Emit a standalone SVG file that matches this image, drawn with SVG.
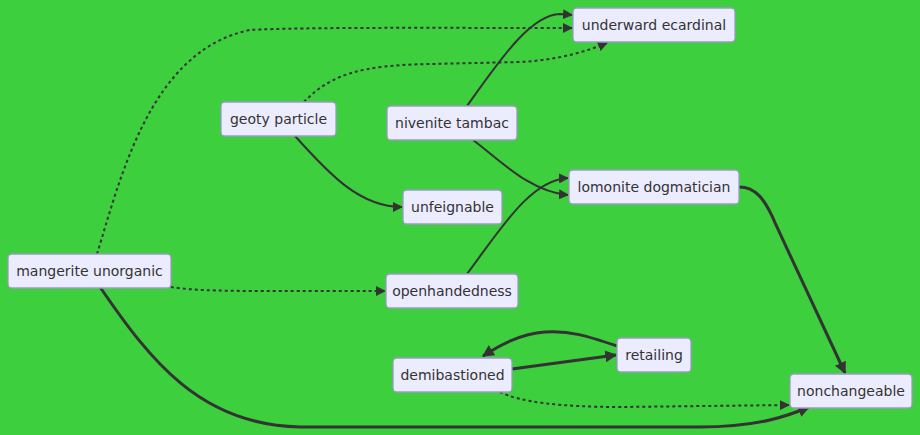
<svg xmlns="http://www.w3.org/2000/svg" width="920" height="435" viewBox="0 0 920 435">
<style>
.node rect{fill:#ECECFF;stroke:#9a9ac4;stroke-width:1.3}
.node text{font-family:"DejaVu Sans",sans-serif;font-size:14px;fill:#333;text-anchor:middle;dominant-baseline:central}
.e{fill:none;stroke:#333;stroke-width:2}
.thick{stroke-width:3}
.dot{stroke-dasharray:3 3}
</style>
<defs>
<marker id="ah" viewBox="0 0 10 10" refX="9" refY="5" markerWidth="10" markerHeight="10" markerUnits="userSpaceOnUse" orient="auto">
<path d="M0,0 L10,5 L0,10 Z" fill="#333"/>
</marker>
<marker id="ahb" viewBox="0 0 10 10" refX="9" refY="5" markerWidth="12" markerHeight="12" markerUnits="userSpaceOnUse" orient="auto">
<path d="M0,0 L10,5 L0,10 Z" fill="#333"/>
</marker>
</defs>
<rect width="920" height="435" fill="#3dcf3d"/>
<g id="connectors">
<path class="e dot" d="M97,254 C120,180 150,50 250,30 C300,27 450,28 572,28" marker-end="url(#ah)"/>
<path class="e dot" d="M304,102 C330,75 360,65 430,64 L520,62 C560,60 590,50 607,43" marker-end="url(#ah)"/>
<path class="e" d="M467,106 C500,60 530,15 560,14 L572,15" marker-end="url(#ah)"/>
<path class="e" d="M473,140 C500,160 530,192 568,195" marker-end="url(#ah)"/>
<path class="e" d="M295,136 C330,175 360,207 402,207" marker-end="url(#ah)"/>
<path class="e" d="M467,274 C500,230 530,180 568,178" marker-end="url(#ah)"/>
<path class="e dot" d="M171,287 C200,292 250,291 385,291" marker-end="url(#ah)"/>
<path class="e thick" d="M739,187 C755,187 765,198 776,225 L845,373" marker-end="url(#ahb)"/>
<path class="e thick" d="M100,287 C150,360 200,425 300,427 L700,427 C760,427 790,415 809,407" marker-end="url(#ahb)"/>
<path class="e dot" d="M500,392 C520,402 560,407 620,407 L789,405" marker-end="url(#ah)"/>
<path class="e thick" d="M512,369 L616,355" marker-end="url(#ahb)"/>
<path class="e thick" d="M617,346 C590,337 570,330 545,332 C520,334 500,345 483,356" marker-end="url(#ahb)"/>
</g>
<g id="n-mangerite" class="node"><rect x="8" y="254" width="163" height="34" rx="4"/><text x="89.5" y="271">mangerite unorganic</text></g>
<g id="n-geoty" class="node"><rect x="221" y="102" width="115" height="34" rx="4"/><text x="278.5" y="119">geoty particle</text></g>
<g id="n-nivenite" class="node"><rect x="387" y="106" width="130" height="34" rx="4"/><text x="452" y="123">nivenite tambac</text></g>
<g id="n-underward" class="node"><rect x="573" y="8" width="162" height="34" rx="4"/><text x="654" y="25">underward ecardinal</text></g>
<g id="n-unfeignable" class="node"><rect x="403" y="190" width="99" height="34" rx="4"/><text x="452.5" y="207">unfeignable</text></g>
<g id="n-lomonite" class="node"><rect x="569" y="170" width="170" height="34" rx="4"/><text x="654" y="187">lomonite dogmatician</text></g>
<g id="n-openhandedness" class="node"><rect x="386" y="274" width="132" height="34" rx="4"/><text x="452" y="291">openhandedness</text></g>
<g id="n-demibastioned" class="node"><rect x="393" y="358" width="119" height="34" rx="4"/><text x="452.5" y="375">demibastioned</text></g>
<g id="n-retailing" class="node"><rect x="617" y="338" width="74" height="34" rx="4"/><text x="654" y="355">retailing</text></g>
<g id="n-nonchangeable" class="node"><rect x="790" y="374" width="122" height="34" rx="4"/><text x="851" y="391">nonchangeable</text></g>
</svg>
